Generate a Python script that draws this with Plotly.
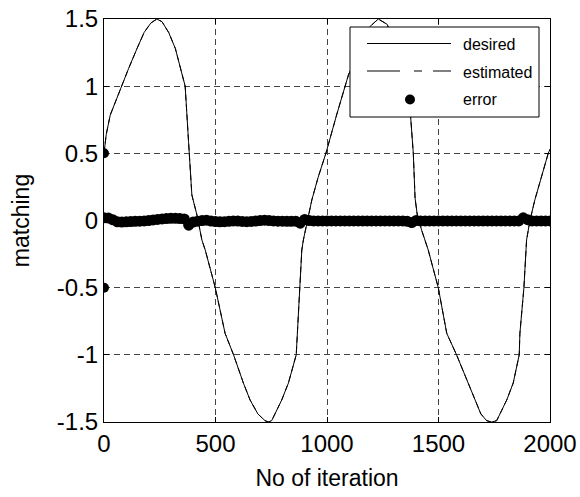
import plotly.graph_objects as go

# ---- data -------------------------------------------------------------
# desired trajectory (iteration, value)
desired_iter = [0, 10, 28, 50, 81, 110, 148, 180, 210, 237, 260, 290, 320, 345, 364,
                379, 394, 417, 431, 439, 454, 499, 543, 581, 625, 655, 690, 722,
                737, 752, 797, 827, 862, 867, 880, 887, 894, 911, 932, 960, 995, 1043,
                1082, 1096, 1150, 1190, 1230, 1270, 1320, 1355, 1375, 1387, 1395,
                1405, 1424, 1440, 1454, 1499, 1537, 1581, 1634, 1663, 1690, 1716,
                1738, 1761, 1806, 1835, 1862, 1865, 1883, 1895, 1910, 1932, 1960,
                1992, 2000]
desired_vals = [0.5, 0.64, 0.785, 0.88, 1.0, 1.13, 1.28, 1.4, 1.47, 1.5, 1.48, 1.4,
                1.28, 1.13, 1.0, 0.59, 0.19, 0.04, -0.07, -0.145, -0.22, -0.5, -0.84,
                -1.0, -1.21, -1.336, -1.44, -1.49, -1.5, -1.49, -1.336, -1.21,
                -1.0, -0.84, -0.5, -0.22, -0.145, 0.0, 0.153, 0.32, 0.5, 0.785, 1.0,
                1.083, 1.3, 1.44, 1.5, 1.46, 1.25, 1.0, 0.773, 0.5, 0.165, 0.04,
                -0.07, -0.145, -0.22, -0.5, -0.84, -1.0, -1.21, -1.336, -1.44,
                -1.49, -1.5, -1.49, -1.336, -1.21, -1.0, -0.84, -0.5, -0.145, 0.0,
                0.153, 0.32, 0.5, 0.53]

# estimated trajectory follows the desired one
estimated_iter = list(desired_iter)
estimated_vals = list(desired_vals)

# tracking error: two start-up samples, then one sample every 20 iterations
error_start_iter = [0, 0]
error_start_vals = [0.5, -0.5]
error_iter = list(range(0, 2001, 20))
error_vals = [
    # 0 .. 180
    0.02, 0.018, 0.005, -0.01, -0.012, -0.01, -0.008, -0.006, -0.005, -0.003,
    # 200 .. 380
    0.0, 0.004, 0.008, 0.012, 0.015, 0.016, 0.016, 0.015, 0.012, -0.035,
    # 400 .. 580
    -0.012, -0.005, 0.0, 0.002, -0.004, -0.008, -0.01, -0.009, -0.006, -0.003,
    # 600 .. 780
    -0.004, -0.007, -0.009, -0.007, -0.004, 0.0, 0.002, 0.0, -0.003, -0.005,
    # 800 .. 980
    -0.005, -0.006, -0.006, -0.005, -0.02, 0.008, 0.0, -0.003, -0.003, -0.003,
    # 1000 .. 1180
    -0.003, -0.003, -0.003, -0.003, -0.003, -0.003, -0.003, -0.003, -0.003, -0.003,
    # 1200 .. 1380
    -0.003, -0.003, -0.003, -0.003, -0.003, -0.003, -0.003, -0.003, -0.006, -0.015,
    # 1400 .. 1580
    0.0, -0.003, -0.003, -0.003, -0.003, -0.003, -0.003, -0.003, -0.003, -0.003,
    # 1600 .. 1780
    -0.003, -0.003, -0.003, -0.003, -0.003, -0.003, -0.003, -0.003, -0.003, -0.003,
    # 1800 .. 1980
    -0.003, -0.003, -0.003, -0.003, 0.02, 0.006, -0.003, -0.003, -0.003, -0.003,
    # 2000
    -0.003,
]

x_ticks = [0, 500, 1000, 1500, 2000]
y_ticks = [-1.5, -1, -0.5, 0, 0.5, 1, 1.5]
y_tick_text = ["-1.5", "-1", "-0.5", "0", "0.5", "1", "1.5"]
legend_names = ["desired", "estimated", "error"]

# ---- figure -------------------------------------------------------------
W, H = 580, 497
ML, MR, MT, MB = 104, 30, 19, 75
FONT = "Liberation Sans, Arial, sans-serif"

fig = go.Figure()
fig.add_trace(go.Scatter(x=desired_iter, y=desired_vals, mode="lines",
                         line=dict(color="black", width=1), name=legend_names[0]))
fig.add_trace(go.Scatter(x=estimated_iter, y=estimated_vals, mode="lines",
                         line=dict(color="black", width=1, dash="6px,4px"),
                         name=legend_names[1]))
fig.add_trace(go.Scatter(x=error_start_iter + error_iter,
                         y=error_start_vals + error_vals, mode="markers",
                         marker=dict(color="black", opacity=1,
                                     size=[10] * len(error_start_iter) + [11] * len(error_iter),
                                     line=dict(width=0)),
                         name=legend_names[2]))

pw, ph = W - ML - MR, H - MT - MB


def px(x):
    return (x - ML) / pw


def py(y):
    return (H - MB - y) / ph


# legend box drawn in paper space
shapes = [
    dict(type="rect", xref="paper", yref="paper", x0=px(350), x1=px(539),
         y0=py(117), y1=py(27), fillcolor="white", line=dict(color="black", width=1),
         layer="above"),
    dict(type="line", xref="paper", yref="paper", x0=px(367), x1=px(451),
         y0=py(43.5), y1=py(43.5), line=dict(color="black", width=1), layer="above"),
    dict(type="line", xref="paper", yref="paper", x0=px(367), x1=px(400),
         y0=py(71), y1=py(71), line=dict(color="black", width=1), layer="above"),
    dict(type="line", xref="paper", yref="paper", x0=px(414), x1=px(422),
         y0=py(71), y1=py(71), line=dict(color="black", width=1), layer="above"),
    dict(type="line", xref="paper", yref="paper", x0=px(433), x1=px(451),
         y0=py(71), y1=py(71), line=dict(color="black", width=1), layer="above"),
    dict(type="circle", xref="paper", yref="paper", x0=px(405), x1=px(415),
         y0=py(104.5), y1=py(94.5), fillcolor="black", line=dict(width=0),
         layer="above"),
]
annotations = [
    dict(xref="paper", yref="paper", x=px(461), y=py(yy), text=t, showarrow=False,
         xanchor="left", yanchor="middle", font=dict(family=FONT, size=16, color="black"))
    for t, yy in zip(legend_names, [44, 72, 99])
]

axis_common = dict(showline=True, linecolor="black", linewidth=1, mirror="ticks",
                   ticks="inside", ticklen=5, tickcolor="black", automargin=False,
                   showgrid=True, gridcolor="#444444", gridwidth=1, griddash="6px,4px",
                   zeroline=False, tickfont=dict(family=FONT, size=24, color="black"))

fig.update_layout(
    width=W, height=H,
    margin=dict(l=ML, r=MR, t=MT, b=MB, pad=0),
    paper_bgcolor="white", plot_bgcolor="white",
    showlegend=False,
    shapes=shapes, annotations=annotations,
    xaxis=dict(range=[0, 2000], tickvals=x_ticks, ticktext=[str(v) for v in x_ticks],
               title=dict(text="No of iteration", standoff=14,
                          font=dict(family=FONT, size=23, color="black")),
               **axis_common),
    yaxis=dict(range=[-1.5, 1.5], tickvals=y_ticks, ticktext=y_tick_text,
               title=dict(text="matching", standoff=20,
                          font=dict(family=FONT, size=23, color="black")),
               **axis_common),
)

fig.write_html("out.html")
